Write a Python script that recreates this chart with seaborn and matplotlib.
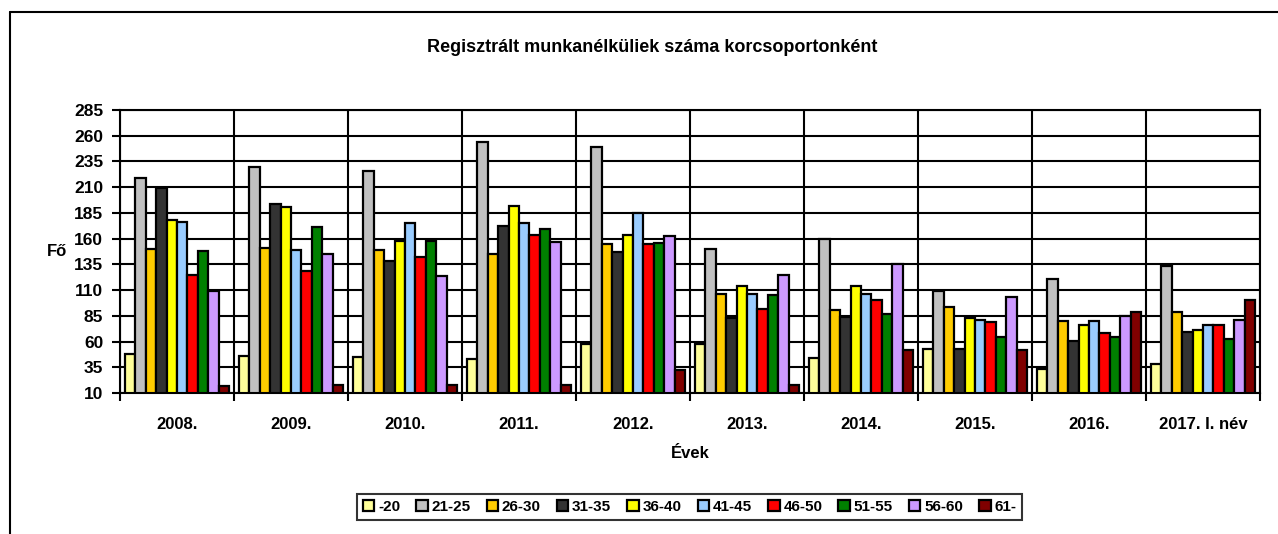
import pandas as pd
import matplotlib.pyplot as plt
import matplotlib.lines as mlines
import seaborn as sns
import numpy as np

# Years (categories) and age groups (hue)
evek = ['2008.', '2009.', '2010.', '2011.', '2012.', '2013.', '2014.', '2015.', '2016.', '2017. I. név']
korcsoportok = ['-20', '21-25', '26-30', '31-35', '36-40', '41-45', '46-50', '51-55', '56-60', '61-']

# Values per age group, one per year
k_20 = [48, 46, 45, 43, 58, 58, 44, 53, 33, 38]
k_21_25 = [219, 230, 226, 254, 249, 150, 160, 109, 121, 133]
k_26_30 = [150, 151, 149, 145, 155, 106, 91, 94, 80, 89]
k_31_35 = [209, 194, 138, 172, 147, 83, 84, 53, 61, 69]
k_36_40 = [178, 191, 158, 192, 164, 114, 114, 83, 76, 71]
k_41_45 = [176, 149, 175, 175, 185, 106, 106, 81, 80, 76]
k_46_50 = [125, 129, 142, 164, 155, 92, 100, 79, 68, 76]
k_51_55 = [148, 171, 158, 169, 156, 105, 87, 64, 64, 62]
k_56_60 = [109, 145, 124, 157, 163, 125, 135, 103, 85, 81]
k_61 = [17, 18, 18, 18, 32, 18, 52, 52, 89, 100]

szinek = ['#FFFF99', '#C0C0C0', '#FFCC00', '#333333', '#FFFF00',
          '#99CCFF', '#FF0000', '#008000', '#CC99FF', '#800000']

sorok = [k_20, k_21_25, k_26_30, k_31_35, k_36_40, k_41_45, k_46_50, k_51_55, k_56_60, k_61]
df = pd.DataFrame([(ev, kcs, v)
                   for kcs, sor in zip(korcsoportok, sorok)
                   for ev, v in zip(evek, sor)],
                  columns=['Év', 'Korcsoport', 'Fő'])

sns.set_style('white')
plt.rcParams['font.family'] = ['Liberation Sans', 'DejaVu Sans']
plt.rcParams['font.weight'] = 'bold'
plt.rcParams['text.color'] = 'black'
plt.rcParams['axes.labelcolor'] = 'black'
plt.rcParams['xtick.color'] = 'black'
plt.rcParams['ytick.color'] = 'black'

fig = plt.figure(figsize=(12.78, 5.34), dpi=100)
ax = fig.add_axes([120 / 1278, 1 - 393 / 534, 1140 / 1278, 283 / 534])

sns.barplot(data=df, x='Év', y='Fő', hue='Korcsoport', hue_order=korcsoportok,
            palette=szinek, width=0.92, edgecolor='black', linewidth=1.6,
            saturation=1, ax=ax)

ax.set_ylim(10, 285)
ax.set_xlim(-0.5, len(evek) - 0.5)
ax.set_yticks(np.arange(10, 286, 25))
ax.set_xticks(np.arange(-0.5, len(evek), 1.0), minor=True)
ax.set_axisbelow(True)
ax.grid(axis='y', which='major', color='black', linewidth=1.5)
ax.grid(axis='x', which='minor', color='black', linewidth=1.5)
ax.grid(axis='x', which='major', visible=False)

ax.tick_params(axis='y', which='major', direction='out', length=6, width=1.5,
               color='black', labelcolor='black', labelsize=12.5, pad=6, left=True)
ax.tick_params(axis='x', which='major', length=0, labelsize=12, labelcolor='black', pad=17)
ax.tick_params(axis='x', which='minor', direction='out', length=6, width=1.5,
               color='black', bottom=True)
for lab in ax.get_xticklabels() + ax.get_yticklabels():
    lab.set_fontweight('bold')

for s in ax.spines.values():
    s.set_color('black')
    s.set_linewidth(1.5)

ax.set_xlabel('Évek', fontsize=12, fontweight='bold', color='black')
ax.xaxis.set_label_coords(0.5, (393 - 446) / 283)
ax.set_ylabel('Fő', fontsize=12, fontweight='bold', color='black', rotation=0, va='center', ha='center')
ax.yaxis.set_label_coords((57 - 120) / 1140, 0.5)

fig.text(652 / 1278, 1 - 48 / 534, 'Regisztrált munkanélküliek száma korcsoportonként',
         ha='center', va='center', fontsize=13, fontweight='bold', color='black')

handles, labels = ax.get_legend_handles_labels()
ax.get_legend().remove()
leg = fig.legend(handles, labels, loc='center', bbox_to_anchor=(689.5 / 1278, 1 - 507 / 534),
                 ncol=10, frameon=True, fancybox=False, edgecolor='black',
                 handlelength=0.75, handleheight=0.75, handletextpad=0.25,
                 columnspacing=1.05, borderpad=0.4, borderaxespad=0,
                 prop={'size': 11, 'weight': 'bold'})
leg.get_frame().set_linewidth(1.5)
for t in leg.get_texts():
    t.set_color('black')

# outer chart border (left and top edges visible)
fig.add_artist(mlines.Line2D([10 / 1278, 10 / 1278], [0, 1 - 12 / 534], color='black', linewidth=1.5))
fig.add_artist(mlines.Line2D([10 / 1278, 1], [1 - 12 / 534, 1 - 12 / 534], color='black', linewidth=1.5))

plt.savefig('out.png', dpi=100)
plt.close()
